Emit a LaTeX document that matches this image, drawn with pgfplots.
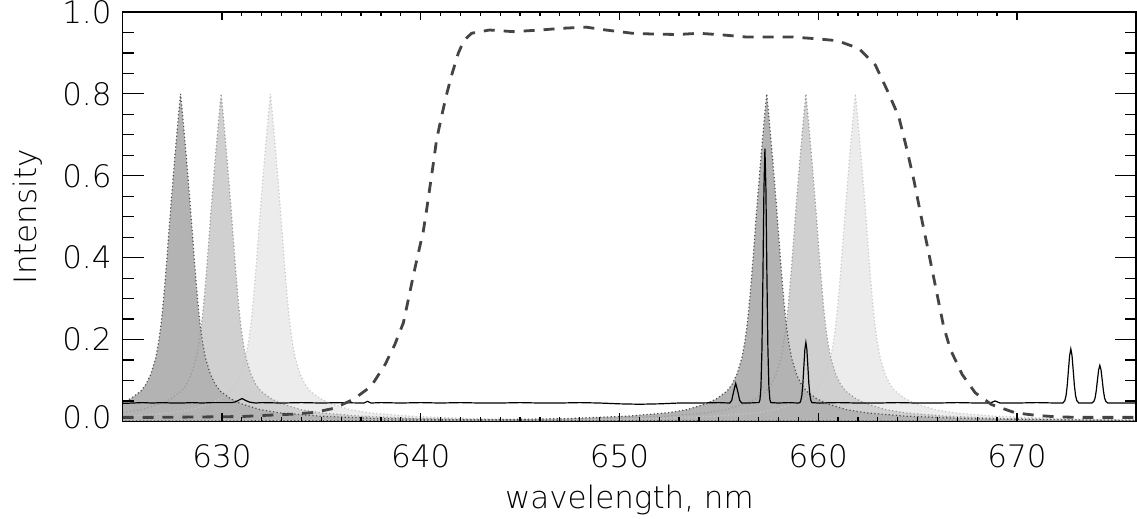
\documentclass[border=0pt]{standalone}
\usepackage{pgfplots}
\usepackage{pgfplotstable}
\pgfplotsset{compat=1.18}
\usepackage{fontspec}
\setmainfont{DejaVu Sans ExtraLight}

\definecolor{fdark}{HTML}{B3B3B3}
\definecolor{fmid}{HTML}{D0D0D0}
\definecolor{flight}{HTML}{ECECEC}
\definecolor{odark}{HTML}{505050}
\definecolor{omid}{HTML}{9A9A9A}
\definecolor{olight}{HTML}{C8C8C8}
\definecolor{prefcol}{HTML}{444444}

% filter profiles (x in nm, relative intensity)
\pgfplotstableread{
x y
620.92 .013
622.92 .021
623.92 .029
624.92 .044
625.42 .056
625.92 .074
626.17 .09
626.42 .115
626.67 .155
626.82 .195
626.92 .23
627.02 .275
627.12 .33
627.22 .39
627.32 .455
627.42 .52
627.52 .58
627.62 .64
627.72 .695
627.82 .75
627.92 .80
628.02 .75
628.12 .695
628.22 .64
628.32 .58
628.42 .52
628.52 .455
628.62 .39
628.72 .33
628.82 .275
628.92 .23
629.02 .195
629.17 .155
629.42 .115
629.67 .09
629.92 .074
630.42 .056
630.92 .044
631.92 .029
632.92 .021
634.92 .013
637.92 .007
642.92 .0035
647.92 .002
657.92 .0011
677.92 .0004
}\filtA
\pgfplotstableread{
x y
619.96 .007
622.96 .013
624.96 .021
625.96 .029
626.96 .044
627.46 .056
627.96 .074
628.21 .09
628.46 .115
628.71 .155
628.86 .195
628.96 .23
629.06 .275
629.16 .33
629.26 .39
629.36 .455
629.46 .52
629.56 .58
629.66 .64
629.76 .695
629.86 .75
629.96 .80
630.06 .75
630.16 .695
630.26 .64
630.36 .58
630.46 .52
630.56 .455
630.66 .39
630.76 .33
630.86 .275
630.96 .23
631.06 .195
631.21 .155
631.46 .115
631.71 .09
631.96 .074
632.46 .056
632.96 .044
633.96 .029
634.96 .021
636.96 .013
639.96 .007
644.96 .0035
649.96 .002
659.96 .0011
679.96 .0004
}\filtB
\pgfplotstableread{
x y
617.44 .0035
622.44 .007
625.44 .013
627.44 .021
628.44 .029
629.44 .044
629.94 .056
630.44 .074
630.69 .09
630.94 .115
631.19 .155
631.34 .195
631.44 .23
631.54 .275
631.64 .33
631.74 .39
631.84 .455
631.94 .52
632.04 .58
632.14 .64
632.24 .695
632.34 .75
632.44 .80
632.54 .75
632.64 .695
632.74 .64
632.84 .58
632.94 .52
633.04 .455
633.14 .39
633.24 .33
633.34 .275
633.44 .23
633.54 .195
633.69 .155
633.94 .115
634.19 .09
634.44 .074
634.94 .056
635.44 .044
636.44 .029
637.44 .021
639.44 .013
642.44 .007
647.44 .0035
652.44 .002
662.44 .0011
682.44 .0004
}\filtC
\pgfplotstableread{
x y
607.41 .0004
627.41 .0011
637.41 .002
642.41 .0035
647.41 .007
650.41 .013
652.41 .021
653.41 .029
654.41 .044
654.91 .056
655.41 .074
655.66 .09
655.91 .115
656.16 .155
656.31 .195
656.41 .23
656.51 .275
656.61 .33
656.71 .39
656.81 .455
656.91 .52
657.01 .58
657.11 .64
657.21 .695
657.31 .75
657.41 .80
657.51 .75
657.61 .695
657.71 .64
657.81 .58
657.91 .52
658.01 .455
658.11 .39
658.21 .33
658.31 .275
658.41 .23
658.51 .195
658.66 .155
658.91 .115
659.16 .09
659.41 .074
659.91 .056
660.41 .044
661.41 .029
662.41 .021
664.41 .013
667.41 .007
672.41 .0035
677.41 .002
}\filtD
\pgfplotstableread{
x y
609.38 .0004
629.38 .0011
639.38 .002
644.38 .0035
649.38 .007
652.38 .013
654.38 .021
655.38 .029
656.38 .044
656.88 .056
657.38 .074
657.63 .09
657.88 .115
658.13 .155
658.28 .195
658.38 .23
658.48 .275
658.58 .33
658.68 .39
658.78 .455
658.88 .52
658.98 .58
659.08 .64
659.18 .695
659.28 .75
659.38 .80
659.48 .75
659.58 .695
659.68 .64
659.78 .58
659.88 .52
659.98 .455
660.08 .39
660.18 .33
660.28 .275
660.38 .23
660.48 .195
660.63 .155
660.88 .115
661.13 .09
661.38 .074
661.88 .056
662.38 .044
663.38 .029
664.38 .021
666.38 .013
669.38 .007
674.38 .0035
679.38 .002
}\filtE
\pgfplotstableread{
x y
611.87 .0004
631.87 .0011
641.87 .002
646.87 .0035
651.87 .007
654.87 .013
656.87 .021
657.87 .029
658.87 .044
659.37 .056
659.87 .074
660.12 .09
660.37 .115
660.62 .155
660.77 .195
660.87 .23
660.97 .275
661.07 .33
661.17 .39
661.27 .455
661.37 .52
661.47 .58
661.57 .64
661.67 .695
661.77 .75
661.87 .80
661.97 .75
662.07 .695
662.17 .64
662.27 .58
662.37 .52
662.47 .455
662.57 .39
662.67 .33
662.77 .275
662.87 .23
662.97 .195
663.12 .155
663.37 .115
663.62 .09
663.87 .074
664.37 .056
664.87 .044
665.87 .029
666.87 .021
668.87 .013
671.87 .007
676.87 .0035
681.87 .002
}\filtF

% prefilter transmission
\pgfplotstableread{
x y
625 0.010
627 0.010
629 0.011
631 0.012
632.26 0.015
633.65 0.018
634.64 0.022
635.63 0.032
636.62 0.054
637.51 0.086
638.21 0.139
638.70 0.188
639.13 0.241
639.38 0.298
639.62 0.354
639.88 0.411
640.13 0.464
640.30 0.517
640.47 0.574
640.64 0.631
640.80 0.688
641.05 0.745
641.30 0.798
641.56 0.846
641.89 0.899
642.17 0.930
642.56 0.948
643.46 0.956
644.65 0.952
646.04 0.956
647.03 0.960
648.32 0.963
649.31 0.956
650.65 0.948
651.75 0.946
652.92 0.945
654.01 0.948
655.18 0.944
656.35 0.939
657.53 0.939
658.66 0.939
659.81 0.935
660.95 0.930
662.04 0.911
662.88 0.870
663.46 0.810
664.05 0.745
664.47 0.663
664.81 0.590
665.14 0.510
665.56 0.412
665.90 0.330
666.31 0.232
666.65 0.176
667.24 0.115
667.90 0.070
668.73 0.041
669.92 0.021
671.01 0.0146
672.10 0.011
673.19 0.010
676 0.010
}\prefilt

% observed spectrum
\pgfplotstableread{
x y
625 .044
625.5 .045
626 .046
626.5 .045
627 .046
627.5 .045
628 .045
628.5 .046
629 .045
629.5 .046
630 .046
630.5 .046
630.7 .048
630.85 .052
631.02 .056
631.2 .051
631.4 .047
631.7 .045
632 .046
633 .045
634 .046
635 .045
636 .046
637 .045
637.15 .045
637.32 .049
637.5 .045
638 .046
639 .045
640 .046
641 .045
642 .046
643 .045
644 .045
645 .046
646 .045
647 .045
648 .046
649 .045
649.5 .044
650 .043
651 .042
652 .043
652.5 .044
653 .045
654 .045
655 .046
655.55 .045
655.65 .0515
655.75 .074
655.85 .093
655.95 .074
656.05 .0515
656.15 .045
656.5 .045
656.9 .046
657.02 .046
657.07 .053
657.12 .084
657.17 .176
657.22 .356
657.27 .567
657.32 .666
657.37 .567
657.42 .356
657.47 .176
657.52 .084
657.57 .053
657.62 .046
658 .045
658.5 .046
659 .045
659.08 .046
659.13 .0515
659.18 .065
659.23 .093
659.28 .135
659.33 .176
659.38 .193
659.43 .176
659.48 .135
659.53 .093
659.58 .065
659.63 .0515
659.68 .046
660 .045
661 .046
662 .045
663 .045
664 .046
665 .045
666 .045
667 .046
668 .045
668.65 .045
668.9 .050
669.15 .045
670 .045
671 .046
672 .045
672.31 .045
672.41 .051
672.47 .063
672.53 .088
672.59 .125
672.65 .161
672.71 .177
672.77 .161
672.83 .125
672.89 .088
672.95 .063
673.01 .051
673.11 .045
673.5 .045
673.77 .045
673.87 .049
673.93 .057
673.99 .075
674.05 .101
674.11 .126
674.17 .137
674.23 .126
674.29 .101
674.35 .075
674.41 .057
674.47 .049
674.57 .045
675 .045
676 .045
}\spec

\begin{document}
\begin{tikzpicture}
\begin{axis}[name=ax,
  scale only axis, width=507.5pt, height=205pt,
  xmin=625, xmax=676, ymin=0, ymax=1.0,
  xtick={630,640,...,670}, minor x tick num=9,
  ytick={0,0.2,...,1.0}, minor y tick num=3,
  yticklabels={\raisebox{4.5pt}{0.0},0.2,0.4,0.6,0.8,\raisebox{-5.5pt}{1.0}},
  /pgf/number format/assume math mode=true,
  tick label style={font=\fontsize{15.5}{18}\selectfont},
  xticklabel style={yshift=-8pt},
  yticklabel style={xshift=-2pt},
  xtick style={/pgfplots/major tick length=4pt,/pgfplots/minor tick length=2pt},
  ytick style={/pgfplots/major tick length=10.5pt,/pgfplots/minor tick length=5.5pt},
  tick style={black, line width=0.6pt},
  axis line style={line width=0.8pt},
  xlabel={wavelength, nm}, ylabel={Intensity},
  every axis x label/.style={at={(axis description cs:0.5,-0.192)},anchor=center,font=\fontsize{15.5}{18}\selectfont},
  every axis y label/.style={at={(axis description cs:-0.094,0.5)},anchor=center,rotate=90,font=\fontsize{15.5}{18}\selectfont},
  axis on top,
]
% fills, lightest first
\addplot[fill=flight, draw=none] table {\filtC} \closedcycle;
\addplot[fill=fmid, draw=none] table {\filtB} \closedcycle;
\addplot[fill=fdark, draw=none] table {\filtA} \closedcycle;
\addplot[fill=flight, draw=none] table {\filtF} \closedcycle;
\addplot[fill=fmid, draw=none] table {\filtE} \closedcycle;
\addplot[fill=fdark, draw=none] table {\filtD} \closedcycle;
% dotted outlines
\addplot[olight, line width=0.6pt, dash pattern=on 0.6pt off 1.2pt] table {\filtC};
\addplot[olight, line width=0.6pt, dash pattern=on 0.6pt off 1.2pt] table {\filtF};
\addplot[omid, line width=0.6pt, dash pattern=on 0.6pt off 1.2pt] table {\filtB};
\addplot[omid, line width=0.6pt, dash pattern=on 0.6pt off 1.2pt] table {\filtE};
\addplot[odark, line width=0.6pt, dash pattern=on 0.6pt off 1.2pt] table {\filtA};
\addplot[odark, line width=0.6pt, dash pattern=on 0.6pt off 1.2pt] table {\filtD};
% spectrum and prefilter
\addplot[black, line width=0.6pt] table {\spec};
\addplot[prefcol, line width=1.4pt, dash pattern=on 5.5pt off 4.5pt] table {\prefilt};
\end{axis}
\pgfresetboundingbox
\path ([xshift=-61.35pt,yshift=-48.5pt]ax.south west) rectangle ([xshift=0.4pt,yshift=6pt]ax.north east);
\end{tikzpicture}
\end{document}
